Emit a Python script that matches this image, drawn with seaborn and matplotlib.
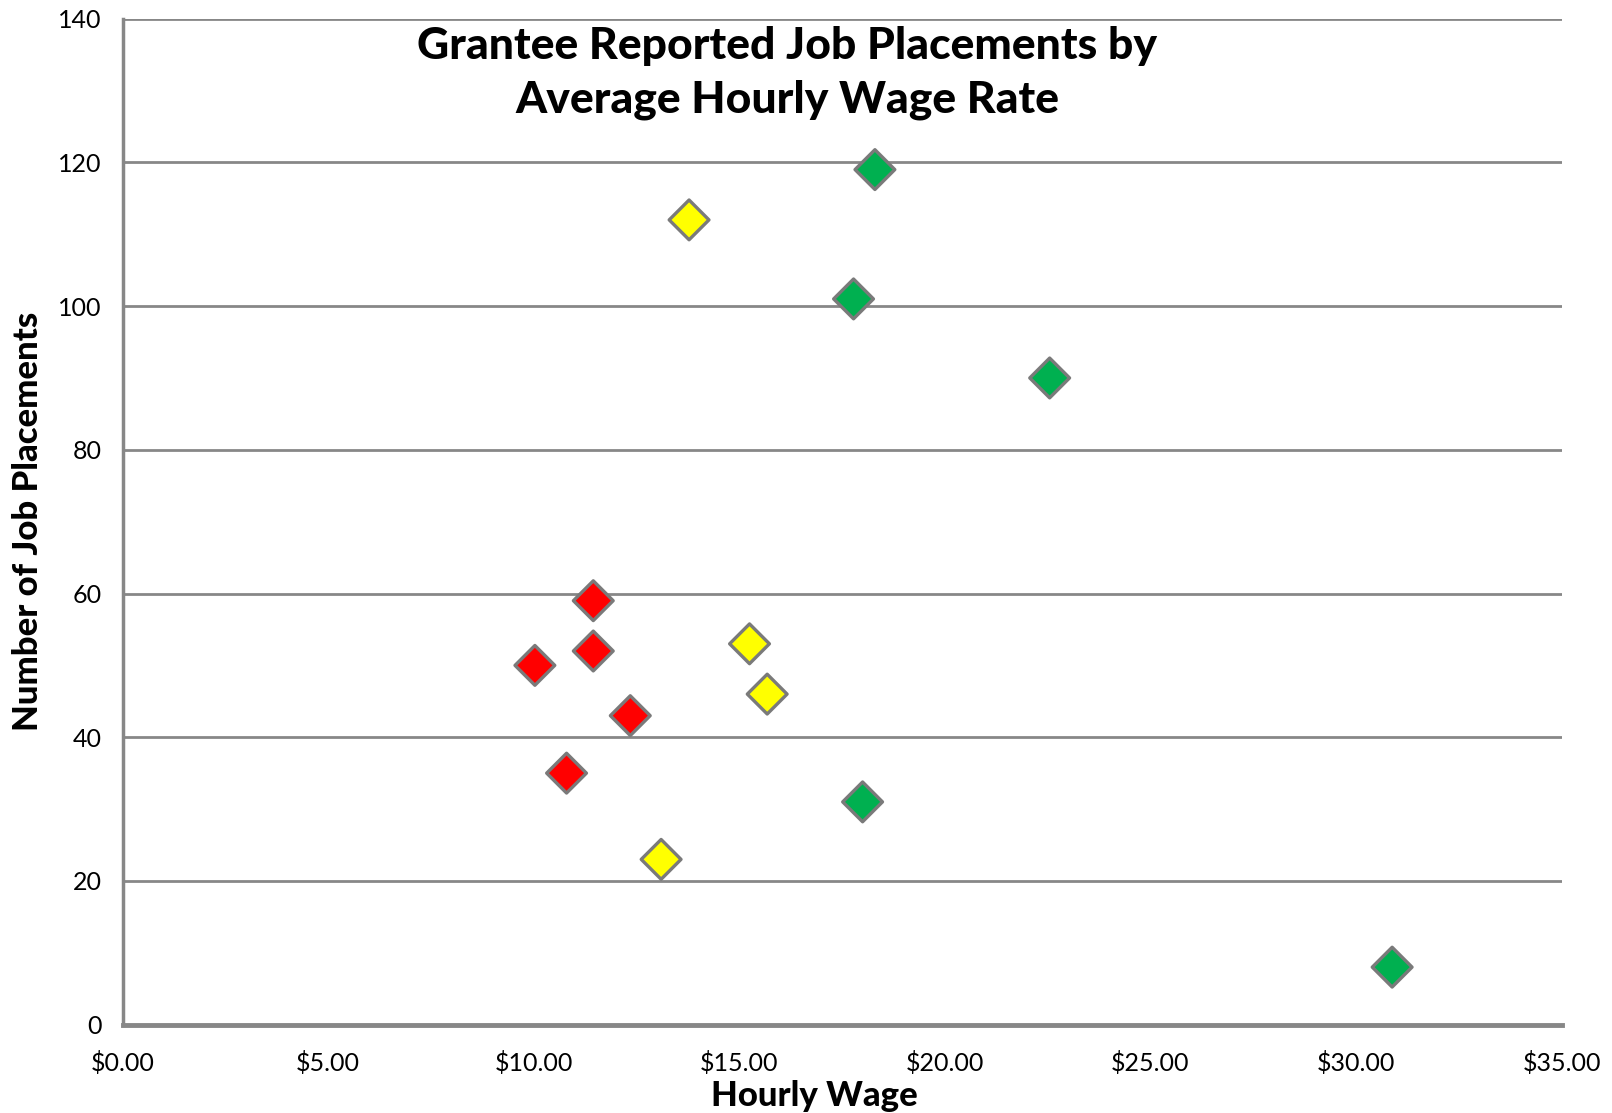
import matplotlib
matplotlib.use("Agg")
import matplotlib.pyplot as plt
import seaborn as sns
import pandas as pd
from matplotlib.ticker import FuncFormatter, MultipleLocator

# ---- data ----
hourly_wage = [13.78, 18.30, 17.78, 22.55, 11.45, 10.03, 11.45, 12.35, 10.80,
               15.25, 15.68, 13.10, 18.00, 30.88]
job_placements = [112, 119, 101, 90, 59, 50, 52, 43, 35,
                  53, 46, 23, 31, 8]
group = ["yellow", "green", "green", "green", "red", "red", "red", "red", "red",
         "yellow", "yellow", "yellow", "green", "green"]
group_colors = {"red": "#FF0000", "yellow": "#FFFF00", "green": "#00B050"}

title_lines = ["Grantee Reported Job Placements by", "Average Hourly Wage Rate"]
x_label = "Hourly Wage"
y_label = "Number of Job Placements"

df = pd.DataFrame({"wage": hourly_wage, "placements": job_placements, "group": group})

sns.set_theme(style="white")
plt.rcParams["font.family"] = ["Lato", "DejaVu Sans"]
plt.rcParams["text.color"] = "black"
plt.rcParams["axes.labelcolor"] = "black"

fig = plt.figure(figsize=(16.12, 11.13), dpi=100)
ax = fig.add_axes([0.076, 0.0794, 0.8927, 0.9038])

grid_c = "#878787"
ax.set_xlim(0, 35)
ax.set_ylim(0, 140)
ax.yaxis.set_major_locator(MultipleLocator(20))
ax.xaxis.set_major_locator(MultipleLocator(5))
ax.grid(axis="y", color=grid_c, linewidth=2)
ax.set_axisbelow(True)

sns.scatterplot(data=df, x="wage", y="placements", hue="group", palette=group_colors,
                marker="D", s=410, edgecolor="#7a7a7a", linewidth=2.4, legend=False,
                ax=ax, zorder=3)

for s in ["top", "right"]:
    ax.spines[s].set_visible(False)
ax.spines["left"].set_color(grid_c)
ax.spines["left"].set_linewidth(2.5)
ax.spines["bottom"].set_color(grid_c)
ax.spines["bottom"].set_linewidth(3.5)

ax.tick_params(axis="both", which="major", direction="out", length=9, width=1.5,
               color=grid_c, labelcolor="black")
ax.tick_params(axis="y", pad=6, labelsize=18)
ax.tick_params(axis="x", pad=10, labelsize=18)
ax.xaxis.set_major_formatter(FuncFormatter(lambda v, p: f"${v:.2f}"))

ax.set_xlabel(x_label, fontsize=25, fontweight=900)
ax.xaxis.set_label_coords(0.481, -0.055)
ax.set_ylabel(y_label, fontsize=25, fontweight=900, labelpad=10)

ax.text(0.462, 0.993, "\n".join(title_lines), transform=ax.transAxes, ha="center", va="top",
        fontsize=32, fontweight=900, linespacing=1.42)

fig.savefig("out.png", dpi=100)
